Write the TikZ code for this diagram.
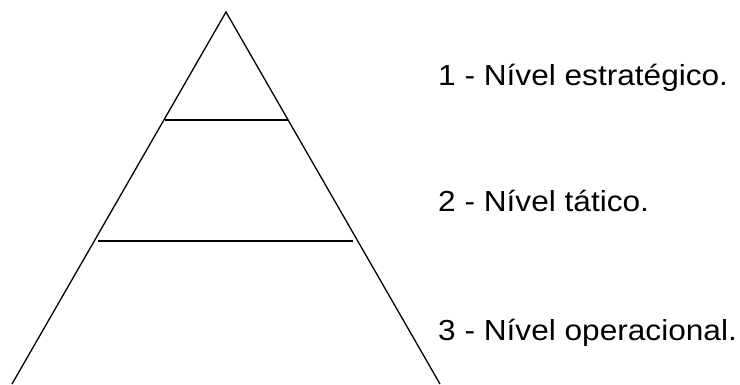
\documentclass[tikz,border=0pt]{standalone}
\usepackage{fontspec}
\setmainfont{Liberation Sans}[FakeStretch=1.09]
\begin{document}
\begin{tikzpicture}[x=1pt,y=-1pt,
  edge/.style={line width=1.3pt, line join=miter},
  lbl/.style={anchor=base west, inner sep=0pt, font=\fontsize{29}{34}\selectfont}]
\useasboundingbox (0,0) rectangle (740,385);
\coordinate (apex) at (226,12);
\coordinate (bl) at (12,384);
\coordinate (br) at (440,384);
\coordinate (a1) at (165,120);
\coordinate (b1) at (288,120);
\coordinate (a2) at (98,241);
\coordinate (b2) at (353,241);
\draw[edge] (bl) -- (apex) -- (br);
\draw[edge] (a1) -- (b1);
\draw[edge] (a2) -- (b2);
\node[lbl] (t1) at (438,86) {1 - Nível estratégico.};
\node[lbl] (t2) at (438,212) {2 - Nível tático.};
\node[lbl] (t3) at (438,340) {3 - Nível operacional.};
\end{tikzpicture}
\end{document}
